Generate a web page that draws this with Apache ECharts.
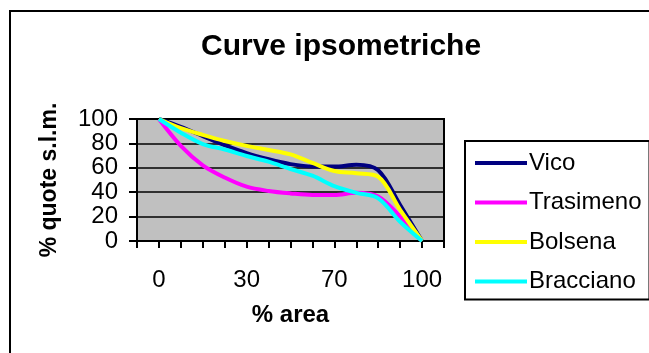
<!DOCTYPE html>
<html>
<head>
<meta charset="utf-8">
<script src="https://cdn.jsdelivr.net/npm/echarts@6/dist/echarts.min.js"></script>
<style>
  html, body { margin: 0; padding: 0; background: #fff; }
  #chart { width: 649px; height: 353px; }
</style>
</head>
<body>
<div id="chart"></div>
<script>
// Category labels along the % area axis (only every fourth one is named)
const areaLabels = ['0', '', '', '', '30', '', '', '', '70', '', '', '', '100'];

// % elevation a.s.l. for each lake
const vico      = [100, 93.5, 86, 78.5, 72, 67, 63, 61, 61, 62.5, 58, 29.5, 0];
const trasimeno = [100, 78, 62, 52, 44.5, 41, 39, 37.7, 37.7, 39.5, 36.5, 20, 0];
const bolsena   = [100, 92.5, 87, 82, 78, 74.6, 71, 64, 57.4, 55.5, 52.7, 25.5, 0];
const bracciano = [100, 88.8, 79.5, 75, 69.7, 65, 59, 53.5, 45, 39.5, 35, 15.8, 0];

const yTicks = [0, 20, 40, 60, 80, 100];

const seriesNames = ['Vico', 'Trasimeno', 'Bolsena', 'Bracciano'];
const seriesColors = ['#000080', '#FF00FF', '#FFFF00', '#00FFFF'];
const seriesValues = [vico, trasimeno, bolsena, bracciano];

// blank slot at each end so the curves sit one tick inside the plot frame
const categories = [''].concat(areaLabels, ['']);
const pad = arr => [null].concat(arr, [null]);

const FONT = '"Liberation Sans", Arial, sans-serif';

const chart = echarts.init(document.getElementById('chart'), null, { renderer: 'canvas' });

chart.setOption({
  backgroundColor: '#ffffff',
  animation: false,
  title: {
    text: 'Curve ipsometriche',
    left: 196,
    top: 27,
    textStyle: { fontFamily: FONT, fontSize: 30, fontWeight: 'bold', color: '#000' }
  },
  graphic: [{
    type: 'rect',
    shape: { x: 10, y: 11, width: 700, height: 400 },
    style: { fill: 'none', stroke: '#000', lineWidth: 2 },
    silent: true
  }],
  legend: {
    orient: 'vertical',
    left: 465,
    top: 141,
    padding: [10, 8, 6, 10],
    itemGap: 15.5,
    itemWidth: 52,
    itemHeight: 4,
    icon: 'rect',
    borderColor: '#000',
    borderWidth: 2,
    textStyle: { fontFamily: FONT, fontSize: 24, color: '#000', padding: [0, 0, 0, -3] },
    data: seriesNames
  },
  grid: {
    left: 137, right: 205, top: 119, bottom: 112,
    show: true,
    backgroundColor: '#C0C0C0',
    borderColor: '#000',
    borderWidth: 2
  },
  xAxis: {
    type: 'category',
    data: categories,
    boundaryGap: false,
    name: '% area',
    nameLocation: 'middle',
    nameGap: 62,
    nameTextStyle: { fontFamily: FONT, fontSize: 24, fontWeight: 'bold', color: '#000' },
    axisLine: { lineStyle: { color: '#000', width: 2 } },
    axisTick: { show: true, interval: 0, length: 7, inside: false, lineStyle: { color: '#000', width: 2 } },
    axisLabel: { interval: 0, margin: 27, fontFamily: FONT, fontSize: 24, color: '#000' },
    splitLine: { show: false }
  },
  yAxis: {
    type: 'value',
    min: yTicks[0],
    max: yTicks[yTicks.length - 1],
    interval: 20,
    name: '% quote s.l.m.',
    nameLocation: 'middle',
    nameGap: 76,
    nameRotate: 90,
    nameTextStyle: { fontFamily: FONT, fontSize: 23, fontWeight: 'bold', color: '#000' },
    axisLine: { show: true, lineStyle: { color: '#000', width: 2 } },
    axisTick: { show: true, length: 8, lineStyle: { color: '#000', width: 2 } },
    axisLabel: { margin: 19, fontFamily: FONT, fontSize: 24, color: '#000' },
    splitLine: { show: true, lineStyle: { color: '#000', width: 1.6 } }
  },
  series: seriesNames.map((name, i) => ({
    name: name,
    type: 'line',
    data: pad(seriesValues[i]),
    smooth: 0.33,
    showSymbol: false,
    symbol: 'none',
    color: seriesColors[i],
    lineStyle: { color: seriesColors[i], width: 4 }
  }))
});
</script>
</body>
</html>
